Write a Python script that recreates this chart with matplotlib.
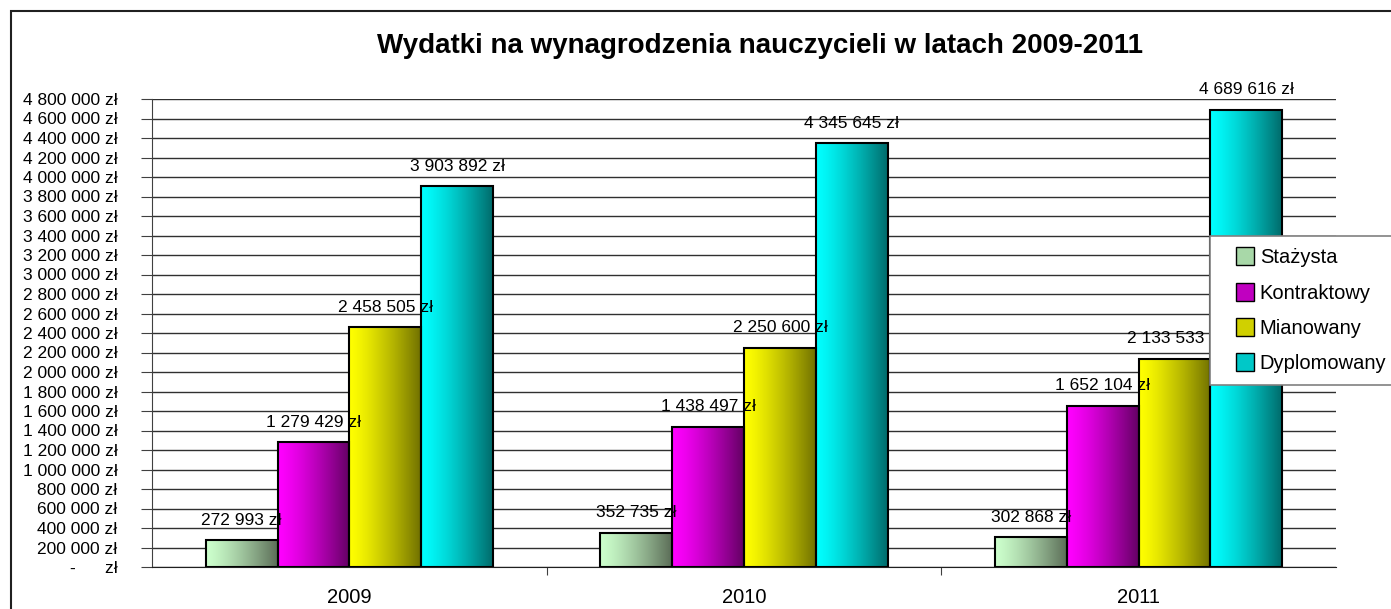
import matplotlib.pyplot as plt
import numpy as np
from matplotlib.patches import Rectangle
from matplotlib.legend_handler import HandlerPatch
from matplotlib.ticker import FuncFormatter, MultipleLocator

plt.rcParams['font.family'] = ['Liberation Sans', 'DejaVu Sans']

years = ['2009', '2010', '2011']
series = ['Stażysta', 'Kontraktowy', 'Mianowany', 'Dyplomowany']
stazysta = [272993, 352735, 302868]
kontraktowy = [1279429, 1438497, 1652104]
mianowany = [2458505, 2250600, 2133533]
dyplomowany = [3903892, 4345645, 4689616]
values = [stazysta, kontraktowy, mianowany, dyplomowany]

# light -> dark colours of the gradient fill
light = ['#ccffcc', '#ff00ff', '#ffff00', '#00ffff']
dark = ['#5c6e58', '#640064', '#727200', '#006c6c']
mid = ['#a8d8a8', '#c000c0', '#d0d000', '#00c8c8']


def zl(v, pos=None):
    if v == 0:
        return '-      zł'
    return format(int(v), ',').replace(',', ' ') + ' zł'


def hex2rgb(h):
    h = h.lstrip('#')
    return np.array([int(h[i:i + 2], 16) for i in (0, 2, 4)]) / 255.0


def gradient(c1, c2, n=64):
    t = np.linspace(0, 1, n) ** 1.3
    a = hex2rgb(c1)
    b = hex2rgb(c2)
    return (a[None, :] * (1 - t[:, None]) + b[None, :] * t[:, None])[None, :, :]


def square(legend, orig_handle, xdescent, ydescent, width, height, fontsize):
    s = 13
    return Rectangle((width - s - xdescent, -ydescent + (height - s) / 2), s, s)


fig = plt.figure(figsize=(13.91, 6.09), dpi=100)
ax = fig.add_axes([152 / 1391, 1 - 567 / 609, (1336 - 152) / 1391, (567 - 99) / 609])

x = np.arange(len(years))
w = 0.182
for i, vals in enumerate(values):
    pos = x + (i - 1.5) * w
    bars = ax.bar(pos, vals, width=w, facecolor='none', edgecolor='black',
                  linewidth=1.5, label=series[i], zorder=4)
    img = gradient(light[i], dark[i])
    for b, v in zip(bars, vals):
        x0 = b.get_x()
        im = ax.imshow(img, extent=[x0, x0 + w, 0, v], aspect='auto',
                       interpolation='bilinear', zorder=3)
        im.set_clip_path(b)
        ax.annotate(zl(v), (x0 + w / 2, v), xytext=(0, 9), textcoords='offset points',
                    ha='center', va='bottom', fontsize=12.5, clip_on=False, zorder=6)

ax.set_xlim(-0.5, 2.5)
ax.set_ylim(0, 4800000)
ax.yaxis.set_major_locator(MultipleLocator(200000))
ax.yaxis.set_major_formatter(FuncFormatter(zl))
ax.grid(axis='y', color='#303030', linewidth=1, zorder=0)
ax.set_axisbelow(True)

ax.set_xticks([0.5, 1.5])
ax.set_xticklabels([])
ax.set_xticks(x, minor=True)
ax.set_xticklabels(years, minor=True, fontsize=14.5)
ax.tick_params(axis='x', which='major', length=6, color='#404040')
ax.tick_params(axis='x', which='minor', length=0, pad=15)
ax.tick_params(axis='y', length=8, labelsize=12.5, pad=17, color='#404040')

for s in ['top', 'right']:
    ax.spines[s].set_visible(False)
ax.spines['left'].set_color('#404040')
ax.spines['bottom'].set_color('#202020')

handles = [Rectangle((0, 0), 1, 1, facecolor=mid[i], edgecolor='black', linewidth=1)
           for i in range(len(series))]
leg = fig.legend(handles, series, loc='upper left',
                 bbox_to_anchor=(1210 / 1391, 1 - 236 / 609), fontsize=14.5,
                 fancybox=False, framealpha=1, edgecolor='#808080',
                 handlelength=1.55, handleheight=0.7, handletextpad=0.3,
                 labelspacing=0.8, borderpad=0.62, borderaxespad=0,
                 handler_map={Rectangle: HandlerPatch(patch_func=square)})
leg.get_frame().set_linewidth(1.2)

fig.text(760 / 1391, 1 - 46 / 609, 'Wydatki na wynagrodzenia nauczycieli w latach 2009-2011',
         ha='center', va='center', fontsize=20, fontweight='bold')

fig.patches.append(Rectangle((11 / 1391, -0.05), 1.0, 1.05 - 11 / 609, transform=fig.transFigure,
                             fill=False, edgecolor='#202020', linewidth=1.5))

plt.savefig('out.png', dpi=100)
